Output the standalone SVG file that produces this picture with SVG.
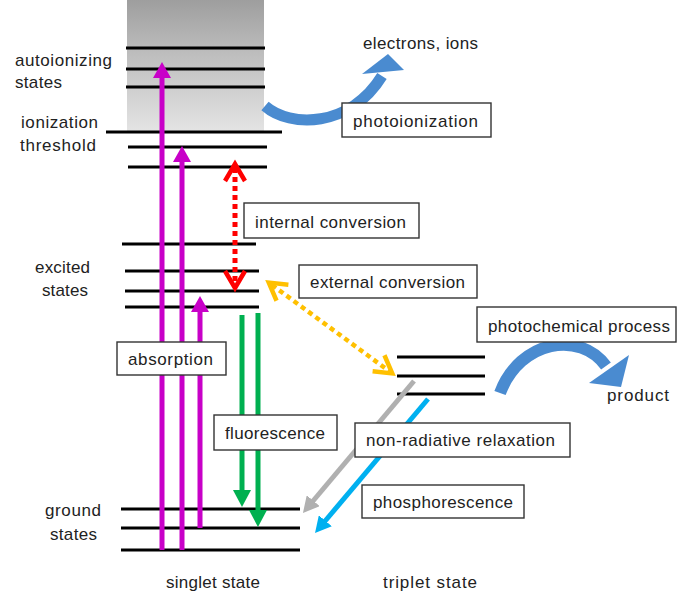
<svg xmlns="http://www.w3.org/2000/svg" width="677" height="594" viewBox="0 0 677 594">
<style>
text{font-family:"Liberation Sans",Arial,sans-serif;font-size:17px;fill:#222}
.lvl{stroke:#000;stroke-width:3;fill:none}
.box{fill:#fff;stroke:#333;stroke-width:1.4}
.blk{fill:#4a8bd0}
</style>
<defs>
<linearGradient id="gray" x1="0" y1="0" x2="0" y2="1">
<stop offset="0" stop-color="#9e9e9e"/>
<stop offset="0.4" stop-color="#bdbdbd"/>
<stop offset="1" stop-color="#e4e4e4"/>
</linearGradient>
<marker id="hP" markerUnits="userSpaceOnUse" markerWidth="16" markerHeight="18" viewBox="0 0 16 18" refX="1" refY="9" orient="auto"><path d="M0,0 L16,9 L0,18 Z" fill="#c800c8"/></marker>
<marker id="hG" markerUnits="userSpaceOnUse" markerWidth="17" markerHeight="18" viewBox="0 0 17 18" refX="1" refY="9" orient="auto"><path d="M0,0 L17,9 L0,18 Z" fill="#00b050"/></marker>
<marker id="hS" markerUnits="userSpaceOnUse" markerWidth="16" markerHeight="17" viewBox="0 0 16 17" refX="1" refY="8.5" orient="auto"><path d="M0,0 L16,8.5 L0,17 Z" fill="#b0b0b0"/></marker>
<marker id="hB" markerUnits="userSpaceOnUse" markerWidth="16" markerHeight="17" viewBox="0 0 16 17" refX="1" refY="8.5" orient="auto"><path d="M0,0 L16,8.5 L0,17 Z" fill="#00b0f0"/></marker>
<marker id="cR" markerUnits="userSpaceOnUse" markerWidth="30" markerHeight="30" viewBox="-5 -15 30 30" refX="13" refY="0" orient="auto-start-reverse" overflow="visible"><path d="M0,-10 L17,0 L0,10" fill="none" stroke="#ff0000" stroke-width="4.5" stroke-dasharray="none"/></marker>
<marker id="cO" markerUnits="userSpaceOnUse" markerWidth="30" markerHeight="30" viewBox="-5 -15 30 30" refX="13" refY="0" orient="auto-start-reverse" overflow="visible"><path d="M0,-10 L17,0 L0,10" fill="none" stroke="#ffc000" stroke-width="4.5" stroke-dasharray="none"/></marker>
</defs>
<rect width="677" height="594" fill="#fff"/>
<g id="continuum"><rect x="127" y="0" width="137" height="132" fill="url(#gray)"/></g>
<g id="singlet-levels">
<line class="lvl" x1="126" y1="48" x2="265" y2="48"/>
<line class="lvl" x1="126" y1="69" x2="265" y2="69"/>
<line class="lvl" x1="126" y1="87" x2="265" y2="87"/>
<line class="lvl" x1="106" y1="132" x2="282" y2="132"/>
<line class="lvl" x1="128" y1="147" x2="267" y2="147"/>
<line class="lvl" x1="128" y1="167" x2="267" y2="167"/>
<line class="lvl" x1="122" y1="244" x2="256" y2="244"/>
<line class="lvl" x1="125" y1="271" x2="259" y2="271"/>
<line class="lvl" x1="125" y1="291" x2="259" y2="291"/>
<line class="lvl" x1="125" y1="307" x2="259" y2="307"/>
<line class="lvl" x1="121" y1="509" x2="300" y2="509"/>
<line class="lvl" x1="121" y1="528" x2="300" y2="528"/>
<line class="lvl" x1="121" y1="550" x2="300" y2="550"/>
</g>
<g id="triplet-levels">
<line class="lvl" x1="397" y1="357" x2="485" y2="357"/>
<line class="lvl" x1="397" y1="376" x2="485" y2="376"/>
<line class="lvl" x1="397" y1="394" x2="485" y2="394"/>
</g>
<g id="connectors">
<line x1="162" y1="550" x2="162" y2="77" stroke="#c800c8" stroke-width="5" marker-end="url(#hP)"/>
<line x1="182" y1="550" x2="182" y2="161" stroke="#c800c8" stroke-width="5" marker-end="url(#hP)"/>
<line x1="200" y1="528" x2="200" y2="311" stroke="#c800c8" stroke-width="5" marker-end="url(#hP)"/>
<line x1="242" y1="315" x2="242" y2="491" stroke="#00b050" stroke-width="5" marker-end="url(#hG)"/>
<line x1="258" y1="313" x2="258" y2="511" stroke="#00b050" stroke-width="5" marker-end="url(#hG)"/>
<path d="M235,168 L235,284" stroke="#ff0000" stroke-width="5" stroke-dasharray="5 4" fill="none" marker-start="url(#cR)" marker-end="url(#cR)"/>
<path d="M272,285 L389,371" stroke="#ffc000" stroke-width="4.5" stroke-dasharray="5 4" fill="none" marker-start="url(#cO)" marker-end="url(#cO)"/>
<line x1="414" y1="381" x2="312.6" y2="501.5" stroke="#b0b0b0" stroke-width="5" marker-end="url(#hS)"/>
<line x1="428" y1="399" x2="324.7" y2="521.5" stroke="#00b0f0" stroke-width="5" marker-end="url(#hB)"/>
<g id="photoionization-arrow">
<path d="M265,106 C290,128 350,128 382,76" fill="none" stroke="#4a8bd0" stroke-width="11"/>
<polygon class="blk" points="362,74 404,70 388,54"/>
</g>
<g id="photochemical-arrow">
<path d="M500,393 C520,340 580,330 606,366" fill="none" stroke="#4a8bd0" stroke-width="12"/>
<polygon class="blk" points="589,383 629,355 621,387"/>
</g>
</g>
<g id="labels">
<text x="15" y="66" textLength="97">autoionizing</text>
<text x="15" y="88" textLength="47">states</text>
<text x="21" y="128" textLength="77">ionization</text>
<text x="20" y="151" textLength="76">threshold</text>
<text x="35" y="273" textLength="55">excited</text>
<text x="42" y="296" textLength="46">states</text>
<text x="45" y="516" textLength="56">ground</text>
<text x="50" y="540" textLength="47">states</text>
<text x="166" y="588" textLength="94">singlet state</text>
<text x="383" y="588" textLength="94">triplet state</text>
<text x="363" y="49" textLength="115">electrons, ions</text>
<text x="607" y="401" textLength="62">product</text>
</g>
<g id="box-photoionization"><rect class="box" x="342" y="103" width="149" height="34"/><text x="353" y="127" textLength="125">photoionization</text></g>
<g id="box-internal"><rect class="box" x="244" y="203" width="175" height="35"/><text x="255" y="228" textLength="151">internal conversion</text></g>
<g id="box-external"><rect class="box" x="299" y="265" width="178" height="33"/><text x="310" y="288" textLength="155">external conversion</text></g>
<g id="box-photochemical"><rect class="box" x="477" y="307" width="199" height="35"/><text x="488" y="332" textLength="182">photochemical process</text></g>
<g id="box-absorption"><rect class="box" x="117" y="342" width="109" height="33"/><text x="128" y="365" textLength="85">absorption</text></g>
<g id="box-fluorescence"><rect class="box" x="214" y="415" width="123" height="35"/><text x="225" y="439" textLength="100">fluorescence</text></g>
<g id="box-nonradiative"><rect class="box" x="355" y="423" width="215" height="34"/><text x="366" y="446" textLength="189">non-radiative relaxation</text></g>
<g id="box-phosphorescence"><rect class="box" x="362" y="485" width="162" height="33"/><text x="373" y="508" textLength="140">phosphorescence</text></g>
</svg>
